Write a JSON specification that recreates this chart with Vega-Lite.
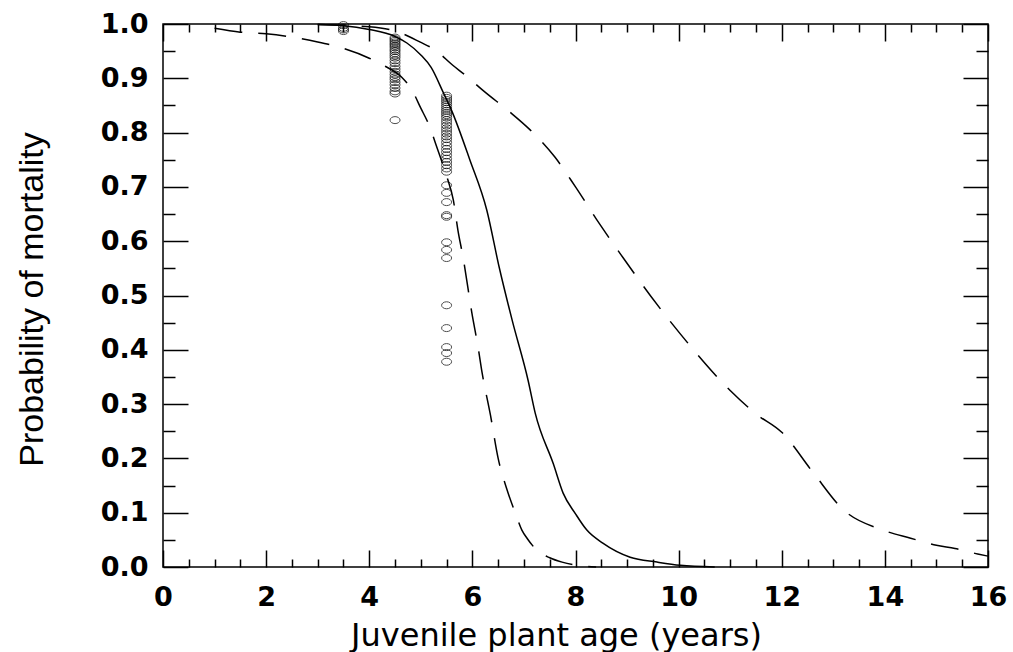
{
  "$schema": "https://vega.github.io/schema/vega-lite/v6.json",
  "width": 825,
  "height": 543,
  "autosize": {"type": "none"},
  "padding": {"left": 163, "top": 24, "right": 25, "bottom": 85},
  "background": "white",
  "config": {
    "view": {"stroke": "black", "strokeWidth": 1.5},
    "axis": {"grid": false, "domain": false, "labelColor": "black", "titleColor": "black", "tickColor": "black", "tickWidth": 1.5}
  },
  "datasets": {
    "pts": [
      {"age": 3.5, "p": 0.998}, {"age": 3.5, "p": 0.993}, {"age": 3.5, "p": 0.99}, {"age": 3.5, "p": 0.987},
      {"age": 4.5, "p": 0.975}, {"age": 4.5, "p": 0.972}, {"age": 4.5, "p": 0.969}, {"age": 4.5, "p": 0.966},
      {"age": 4.5, "p": 0.963}, {"age": 4.5, "p": 0.96}, {"age": 4.5, "p": 0.957}, {"age": 4.5, "p": 0.953},
      {"age": 4.5, "p": 0.95}, {"age": 4.5, "p": 0.946}, {"age": 4.5, "p": 0.942}, {"age": 4.5, "p": 0.938},
      {"age": 4.5, "p": 0.933}, {"age": 4.5, "p": 0.928}, {"age": 4.5, "p": 0.922}, {"age": 4.5, "p": 0.917},
      {"age": 4.5, "p": 0.912}, {"age": 4.5, "p": 0.907}, {"age": 4.5, "p": 0.902}, {"age": 4.5, "p": 0.898},
      {"age": 4.5, "p": 0.893}, {"age": 4.5, "p": 0.888}, {"age": 4.5, "p": 0.882}, {"age": 4.5, "p": 0.876},
      {"age": 4.5, "p": 0.872}, {"age": 4.5, "p": 0.823},
      {"age": 5.5, "p": 0.868}, {"age": 5.5, "p": 0.864}, {"age": 5.5, "p": 0.86}, {"age": 5.5, "p": 0.856},
      {"age": 5.5, "p": 0.852}, {"age": 5.5, "p": 0.848}, {"age": 5.5, "p": 0.844}, {"age": 5.5, "p": 0.84},
      {"age": 5.5, "p": 0.836}, {"age": 5.5, "p": 0.832}, {"age": 5.5, "p": 0.828}, {"age": 5.5, "p": 0.823},
      {"age": 5.5, "p": 0.818}, {"age": 5.5, "p": 0.813}, {"age": 5.5, "p": 0.808}, {"age": 5.5, "p": 0.803},
      {"age": 5.5, "p": 0.798}, {"age": 5.5, "p": 0.793}, {"age": 5.5, "p": 0.788}, {"age": 5.5, "p": 0.782},
      {"age": 5.5, "p": 0.776}, {"age": 5.5, "p": 0.77}, {"age": 5.5, "p": 0.764}, {"age": 5.5, "p": 0.758},
      {"age": 5.5, "p": 0.752}, {"age": 5.5, "p": 0.746}, {"age": 5.5, "p": 0.74}, {"age": 5.5, "p": 0.734},
      {"age": 5.5, "p": 0.728}, {"age": 5.5, "p": 0.703}, {"age": 5.5, "p": 0.689}, {"age": 5.5, "p": 0.672},
      {"age": 5.5, "p": 0.648}, {"age": 5.5, "p": 0.645}, {"age": 5.5, "p": 0.598}, {"age": 5.5, "p": 0.584},
      {"age": 5.5, "p": 0.569}, {"age": 5.5, "p": 0.482}, {"age": 5.5, "p": 0.44}, {"age": 5.5, "p": 0.405},
      {"age": 5.5, "p": 0.394}, {"age": 5.5, "p": 0.378}
    ],
    "curves": [
      {"curve": "fit", "age": 3.0, "p": 0.999}, {"curve": "fit", "age": 3.5, "p": 0.997},
      {"curve": "fit", "age": 4.0, "p": 0.99}, {"curve": "fit", "age": 4.5, "p": 0.977},
      {"curve": "fit", "age": 4.73, "p": 0.965}, {"curve": "fit", "age": 5.0, "p": 0.943},
      {"curve": "fit", "age": 5.2, "p": 0.92}, {"curve": "fit", "age": 5.43, "p": 0.875},
      {"curve": "fit", "age": 5.6, "p": 0.84}, {"curve": "fit", "age": 5.95, "p": 0.75},
      {"curve": "fit", "age": 6.28, "p": 0.657}, {"curve": "fit", "age": 6.52, "p": 0.552},
      {"curve": "fit", "age": 6.77, "p": 0.455}, {"curve": "fit", "age": 7.08, "p": 0.344},
      {"curve": "fit", "age": 7.22, "p": 0.283}, {"curve": "fit", "age": 7.57, "p": 0.19},
      {"curve": "fit", "age": 7.76, "p": 0.136}, {"curve": "fit", "age": 8.0, "p": 0.098},
      {"curve": "fit", "age": 8.22, "p": 0.068}, {"curve": "fit", "age": 8.53, "p": 0.044},
      {"curve": "fit", "age": 9.06, "p": 0.018}, {"curve": "fit", "age": 9.58, "p": 0.009},
      {"curve": "fit", "age": 10.03, "p": 0.003}, {"curve": "fit", "age": 10.7, "p": 0.0},
      {"curve": "lower", "age": 1.0, "p": 0.992}, {"curve": "lower", "age": 1.5, "p": 0.985},
      {"curve": "lower", "age": 2.0, "p": 0.982}, {"curve": "lower", "age": 2.5, "p": 0.976},
      {"curve": "lower", "age": 3.0, "p": 0.967}, {"curve": "lower", "age": 3.5, "p": 0.955},
      {"curve": "lower", "age": 4.0, "p": 0.937}, {"curve": "lower", "age": 4.27, "p": 0.924},
      {"curve": "lower", "age": 4.63, "p": 0.902}, {"curve": "lower", "age": 4.83, "p": 0.878},
      {"curve": "lower", "age": 5.0, "p": 0.845}, {"curve": "lower", "age": 5.14, "p": 0.818},
      {"curve": "lower", "age": 5.33, "p": 0.768}, {"curve": "lower", "age": 5.5, "p": 0.72},
      {"curve": "lower", "age": 5.63, "p": 0.676}, {"curve": "lower", "age": 5.72, "p": 0.62},
      {"curve": "lower", "age": 5.82, "p": 0.57}, {"curve": "lower", "age": 5.99, "p": 0.468},
      {"curve": "lower", "age": 6.11, "p": 0.405}, {"curve": "lower", "age": 6.19, "p": 0.357},
      {"curve": "lower", "age": 6.35, "p": 0.28}, {"curve": "lower", "age": 6.5, "p": 0.2},
      {"curve": "lower", "age": 6.68, "p": 0.14}, {"curve": "lower", "age": 6.83, "p": 0.1},
      {"curve": "lower", "age": 6.96, "p": 0.068}, {"curve": "lower", "age": 7.06, "p": 0.053},
      {"curve": "lower", "age": 7.25, "p": 0.031}, {"curve": "lower", "age": 7.5, "p": 0.017},
      {"curve": "lower", "age": 7.74, "p": 0.009}, {"curve": "lower", "age": 8.15, "p": 0.002},
      {"curve": "lower", "age": 8.4, "p": 0.0},
      {"curve": "upper", "age": 3.0, "p": 0.999}, {"curve": "upper", "age": 4.0, "p": 0.995},
      {"curve": "upper", "age": 4.54, "p": 0.986}, {"curve": "upper", "age": 4.98, "p": 0.967},
      {"curve": "upper", "age": 5.28, "p": 0.952}, {"curve": "upper", "age": 5.62, "p": 0.924},
      {"curve": "upper", "age": 5.86, "p": 0.906}, {"curve": "upper", "age": 6.24, "p": 0.875},
      {"curve": "upper", "age": 6.7, "p": 0.84}, {"curve": "upper", "age": 7.12, "p": 0.805},
      {"curve": "upper", "age": 7.6, "p": 0.755}, {"curve": "upper", "age": 8.0, "p": 0.7},
      {"curve": "upper", "age": 8.48, "p": 0.63}, {"curve": "upper", "age": 8.92, "p": 0.57},
      {"curve": "upper", "age": 9.45, "p": 0.5}, {"curve": "upper", "age": 10.2, "p": 0.41},
      {"curve": "upper", "age": 11.0, "p": 0.325}, {"curve": "upper", "age": 11.5, "p": 0.282},
      {"curve": "upper", "age": 12.0, "p": 0.248}, {"curve": "upper", "age": 12.6, "p": 0.175},
      {"curve": "upper", "age": 13.2, "p": 0.105}, {"curve": "upper", "age": 13.96, "p": 0.068},
      {"curve": "upper", "age": 14.5, "p": 0.053}, {"curve": "upper", "age": 15.0, "p": 0.04},
      {"curve": "upper", "age": 15.36, "p": 0.034}, {"curve": "upper", "age": 15.8, "p": 0.024},
      {"curve": "upper", "age": 16.0, "p": 0.02}
    ]
  },
  "resolve": {"axis": {"x": "independent", "y": "independent"}},
  "layer": [
    {
      "data": {"name": "pts"},
      "mark": {"type": "point", "shape": "M-1,0A1,0.7,0,1,0,1,0A1,0.7,0,1,0,-1,0Z", "size": 100, "stroke": "black", "strokeWidth": 1, "filled": false},
      "encoding": {
        "x": {"field": "age", "type": "quantitative", "scale": {"domain": [0, 16], "nice": false},
          "axis": {"orient": "bottom", "ticks": false, "values": [0, 2, 4, 6, 8, 10, 12, 14, 16],
            "labelFont": "DejaVu Sans", "labelFontWeight": "bold", "labelFontSize": 27, "labelPadding": 17, "labelFlush": false, "labelOverlap": false,
            "title": "Juvenile plant age (years)", "titleFont": "DejaVu Sans", "titleFontWeight": "normal", "titleFontSize": 32,
            "titleX": 393, "titleY": 78, "titleAlign": "center", "titleBaseline": "alphabetic"}},
        "y": {"field": "p", "type": "quantitative", "scale": {"domain": [0, 1], "nice": false},
          "axis": {"orient": "left", "ticks": false, "values": [0, 0.1, 0.2, 0.3, 0.4, 0.5, 0.6, 0.7, 0.8, 0.9, 1.0], "format": ".1f",
            "labelFont": "DejaVu Sans", "labelFontWeight": "bold", "labelFontSize": 27, "labelPadding": 15, "labelFlush": false, "labelOverlap": false,
            "title": "Probability of mortality", "titleFont": "Liberation Sans", "titleFontWeight": "normal", "titleFontSize": 34,
            "titleAngle": 270, "titleX": -121, "titleY": 275, "titleAlign": "center", "titleBaseline": "alphabetic"}}
      }
    },
    {
      "data": {"name": "curves"},
      "transform": [{"filter": "datum.curve === 'fit'"}],
      "mark": {"type": "line", "color": "black", "strokeWidth": 1.5, "interpolate": "monotone"},
      "encoding": {
        "x": {"field": "age", "type": "quantitative",
          "axis": {"orient": "bottom", "labels": false, "title": null,
            "values": [0, 0.5, 1, 1.5, 2, 2.5, 3, 3.5, 4, 4.5, 5, 5.5, 6, 6.5, 7, 7.5, 8, 8.5, 9, 9.5, 10, 10.5, 11, 11.5, 12, 12.5, 13, 13.5, 14, 14.5, 15, 15.5, 16],
            "tickSize": {"condition": {"test": "datum.value % 2 === 0", "value": -17}, "value": -8}}},
        "y": {"field": "p", "type": "quantitative",
          "axis": {"orient": "left", "labels": false, "title": null,
            "values": [0, 0.05, 0.1, 0.15, 0.2, 0.25, 0.3, 0.35, 0.4, 0.45, 0.5, 0.55, 0.6, 0.65, 0.7, 0.75, 0.8, 0.85, 0.9, 0.95, 1.0],
            "tickSize": {"condition": {"test": "round(datum.value * 100) % 10 === 0", "value": -25}, "value": -12}}}
      }
    },
    {
      "data": {"name": "curves"},
      "transform": [{"filter": "datum.curve === 'lower'"}],
      "mark": {"type": "line", "color": "black", "strokeWidth": 1.5, "strokeDash": [28, 16], "interpolate": "monotone"},
      "encoding": {
        "x": {"field": "age", "type": "quantitative",
          "axis": {"orient": "top", "labels": false, "title": null,
            "values": [0, 0.5, 1, 1.5, 2, 2.5, 3, 3.5, 4, 4.5, 5, 5.5, 6, 6.5, 7, 7.5, 8, 8.5, 9, 9.5, 10, 10.5, 11, 11.5, 12, 12.5, 13, 13.5, 14, 14.5, 15, 15.5, 16],
            "tickSize": {"condition": {"test": "datum.value % 2 === 0", "value": -17}, "value": -8}}},
        "y": {"field": "p", "type": "quantitative",
          "axis": {"orient": "right", "labels": false, "title": null,
            "values": [0, 0.05, 0.1, 0.15, 0.2, 0.25, 0.3, 0.35, 0.4, 0.45, 0.5, 0.55, 0.6, 0.65, 0.7, 0.75, 0.8, 0.85, 0.9, 0.95, 1.0],
            "tickSize": {"condition": {"test": "round(datum.value * 100) % 10 === 0", "value": -25}, "value": -12}}}
      }
    },
    {
      "data": {"name": "curves"},
      "transform": [{"filter": "datum.curve === 'upper'"}],
      "mark": {"type": "line", "color": "black", "strokeWidth": 1.5, "strokeDash": [28, 16], "interpolate": "monotone"},
      "encoding": {
        "x": {"field": "age", "type": "quantitative", "axis": null},
        "y": {"field": "p", "type": "quantitative", "axis": null}
      }
    }
  ]
}
